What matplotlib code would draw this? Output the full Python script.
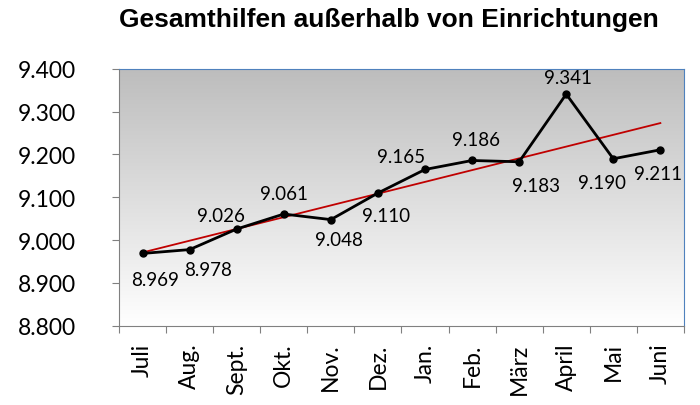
import numpy as np
import matplotlib
matplotlib.use('Agg')
from matplotlib import pyplot as plt

plt.rcParams['font.family'] = ['Lato', 'DejaVu Sans']

# Daten
monate = ['Juli', 'Aug.', 'Sept.', 'Okt.', 'Nov.', 'Dez.', 'Jan.', 'Feb.', 'März', 'April', 'Mai', 'Juni']
werte = [8969, 8978, 9026, 9061, 9048, 9110, 9165, 9186, 9183, 9341, 9190, 9211]
y_ticks = [8800, 8900, 9000, 9100, 9200, 9300, 9400]

# Position der Datenbeschriftungen (Versatz in Punkten)
label_offsets = [(9, -19), (13, -14), (-11, 10), (0, 15), (6, -14), (6, -16),
                 (-17, 9), (3, 15), (12, -17), (1, 12), (-8, -17), (-2, -17)]


def fmt(v):
    return f'{v / 1000:.3f}'


fig = plt.figure(figsize=(7, 4.06), dpi=100)
ax = fig.add_axes([0.170, 0.195, 0.807, 0.633])

x = np.arange(len(monate))
ax.set_xlim(-0.5, len(monate) - 0.5)
ax.set_ylim(8800, 9400)

# Hintergrund mit Farbverlauf
grad = np.linspace(0, 1, 256).reshape(-1, 1)
ax.imshow(grad, extent=(-0.5, len(monate) - 0.5, 8800, 9400), aspect='auto',
          cmap=matplotlib.colors.LinearSegmentedColormap.from_list('g', ['#ffffff', '#bdbdbd']),
          origin='lower', zorder=0)

ax.plot(x, werte, color='black', lw=2, marker='o', markersize=5, zorder=3)

# lineare Trendlinie
k, d = np.polyfit(x, werte, 1)
ax.plot(x, k * x + d, color='#c00000', lw=1.3, zorder=2)

for xi, v, off in zip(x, werte, label_offsets):
    ax.annotate(fmt(v), (xi, v), xytext=off, textcoords='offset points',
                ha='center', va='center', fontsize=13.5, zorder=4)

ax.set_yticks(y_ticks)
ax.set_yticklabels([fmt(v) for v in y_ticks], fontsize=16.5)
ax.set_xticks(np.arange(len(monate) + 1) - 0.5, minor=False)
ax.set_xticklabels([])
ax.set_xticks(x, minor=True)
ax.set_xticklabels(monate, minor=True, rotation=90, fontsize=16.5)
ax.tick_params(axis='x', which='minor', length=0, pad=12)
ax.tick_params(axis='x', which='major', length=5, color='#808080')
ax.tick_params(axis='y', length=5, color='#808080', pad=26)

for s in ['top', 'right']:
    ax.spines[s].set_color('#4f81bd')
ax.spines['left'].set_color('#808080')
ax.spines['bottom'].set_color('#808080')

fig.text(0.556, 0.95, 'Gesamthilfen außerhalb von Einrichtungen', ha='center', va='center',
         fontsize=19, fontweight='bold', family=['Liberation Sans', 'DejaVu Sans'])

plt.savefig('out.png')
